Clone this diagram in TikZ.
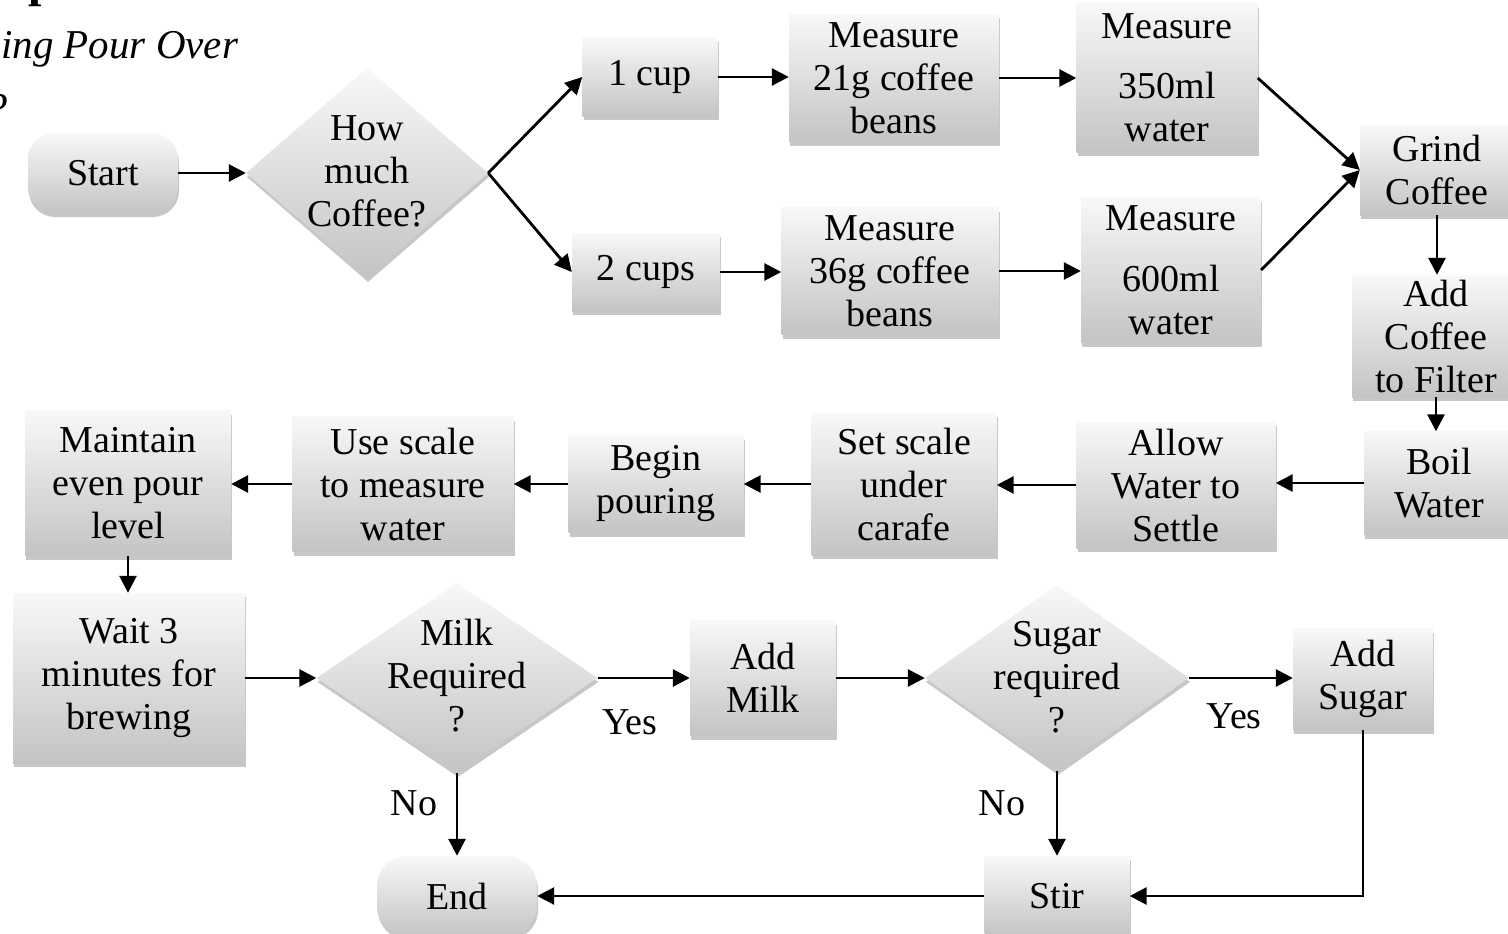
\documentclass[tikz,border=0pt]{standalone}
\usepackage{fontspec}
\setmainfont{Liberation Serif}
\usetikzlibrary{arrows.meta,shapes.geometric,shadows,calc}
\definecolor{gtop}{HTML}{F8F8F8}
\definecolor{gbot}{HTML}{C4C4C4}
\newcommand\bigfs{\fontsize{38}{43}\selectfont}
\begin{document}
\begin{tikzpicture}[x=1pt,y=-1pt,
 shad/.style={drop shadow={shadow xshift=1pt,shadow yshift=-4pt,fill=black,opacity=0.22}},
 box/.style={rectangle, top color=gtop, bottom color=gbot, shad, align=center, inner sep=0pt, font=\bigfs, text=black},
 term/.style={box, rounded corners=26pt},
 dia/.style={diamond, top color=gtop, bottom color=gbot, shad, inner sep=0pt},
 txt/.style={align=center, inner sep=0pt, font=\bigfs},
 arr/.style={-{Triangle[length=17pt,width=17pt]}, line width=2.8pt},
 lbl/.style={font=\bigfs, inner sep=0pt}]
\useasboundingbox[fill=white] (0,0) rectangle (1508,934);

% cut-off title fragments
\node[font=\fontsize{48}{48}\selectfont\bfseries, anchor=base west, inner sep=0pt] (ttl) at (28,-3) {p};
\node[font=\fontsize{41}{41}\selectfont\itshape, anchor=base west, inner sep=0pt] (sub) at (1,59) {ing Pour Over};
\node[font=\fontsize{44}{44}\selectfont\itshape, anchor=base east, inner sep=0pt] (sub2) at (8,124) {?};

% top branch
\node[term, minimum width=150pt, minimum height=80pt] (start) at (103,173) {Start};
\node[dia, minimum width=242pt, minimum height=210pt] (q1) at (367,173) {};
\node[txt] (q1t) at (367,171) {How\\much\\Coffee?};
\node[box, minimum width=135pt, minimum height=78pt] (c1) at (650,77) {1 cup};
\node[box, minimum width=148pt, minimum height=78pt] (c2) at (646,272) {2 cups};
\node[box, minimum width=210pt, minimum height=127pt] (m21) at (894,78) {Measure\\21g coffee\\beans};
\node[box, minimum width=217pt, minimum height=127pt] (m36) at (890,271) {Measure\\36g coffee\\beans};
\node[box, minimum width=181pt, minimum height=148pt] (w350) at (1167,78) {Measure\\[17pt]350ml\\water};
\node[box, minimum width=180pt, minimum height=145pt] (w600) at (1171,270) {Measure\\[18pt]600ml\\water};

% right column
\node[box, minimum width=154pt, minimum height=90pt] (grind) at (1437,170) {Grind\\Coffee};
\node[box, minimum width=168pt, minimum height=122pt] (addf) at (1436,336) {Add\\Coffee\\to Filter};
\node[box, minimum width=150pt, minimum height=103pt] (boil) at (1439,483) {Boil\\Water};

% middle row
\node[box, minimum width=199pt, minimum height=126pt] (allow) at (1176,485) {Allow\\Water to\\Settle};
\node[box, minimum width=185pt, minimum height=142pt] (setsc) at (904,484) {Set scale\\under\\carafe};
\node[box, minimum width=175pt, minimum height=97pt] (begin) at (656,484) {Begin\\pouring};
\node[box, minimum width=221pt, minimum height=135pt] (use) at (403,484) {Use scale\\to measure\\water};
\node[box, minimum width=206pt, minimum height=145pt] (maint) at (128,483) {Maintain\\even pour\\level};

% bottom rows
\node[box, minimum width=232pt, minimum height=170pt] (wait) at (129,678) {Wait 3\\minutes for\\brewing};
\node[dia, minimum width=281pt, minimum height=190pt] (milk) at (457,678) {};
\node[txt] (milkt) at (457,676) {Milk\\Required\\?};
\node[box, minimum width=146pt, minimum height=115pt] (addm) at (763,678) {Add\\Milk};
\node[dia, minimum width=264pt, minimum height=186pt] (sugar) at (1057,678) {};
\node[txt] (sugart) at (1057,677) {Sugar\\required\\?};
\node[box, minimum width=140pt, minimum height=101pt] (adds) at (1363,679) {Add\\Sugar};
\node[term, minimum width=160pt, minimum height=80pt, rounded corners=30pt] (endn) at (457,896) {End};
\node[box, minimum width=145pt, minimum height=80pt] (stir) at (1057,896) {Stir};

% labels
\node[lbl] (y1) at (630,722) {Yes};
\node[lbl] (y2) at (1234,716) {Yes};
\node[lbl] (n1) at (414,803) {No};
\node[lbl] (n2) at (1002,803) {No};

% connectors
\draw[arr] (start.east) -- (q1.west);
\draw[arr] (q1.east) -- (c1.west);
\draw[arr] (q1.east) -- (c2.west);
\draw[arr] (c1.east) -- (c1.east -| m21.west);
\draw[arr] (m21.east) -- (m21.east -| w350.west);
\draw[arr] (c2.east) -- (c2.east -| m36.west);
\draw[arr] (m36.east) -- (m36.east -| w600.west);
\draw[arr] (w350.east) -- (grind.west);
\draw[arr] (w600.east) -- (grind.west);
\draw[arr] (grind.south) -- (grind.south |- addf.north);
\draw[arr] (addf.south) -- (addf.south |- boil.north);
\draw[arr] (boil.west) -- (boil.west -| allow.east);
\draw[arr] (allow.west) -- (allow.west -| setsc.east);
\draw[arr] (setsc.west) -- (setsc.west -| begin.east);
\draw[arr] (begin.west) -- (begin.west -| use.east);
\draw[arr] (use.west) -- (use.west -| maint.east);
\draw[arr] (maint.south) -- (maint.south |- wait.north);
\draw[arr] (wait.east) -- (milk.west);
\draw[arr] (milk.east) -- (addm.west);
\draw[arr] (addm.east) -- (sugar.west);
\draw[arr] (sugar.east) -- (sugar.east -| adds.west);
\draw[arr] (milk.south) -- (endn.north);
\draw[arr] (sugar.south) -- (stir.north);
\draw[arr] (adds.south) |- (stir.east);
\draw[arr] (stir.west) -- (endn.east);
\end{tikzpicture}
\end{document}
